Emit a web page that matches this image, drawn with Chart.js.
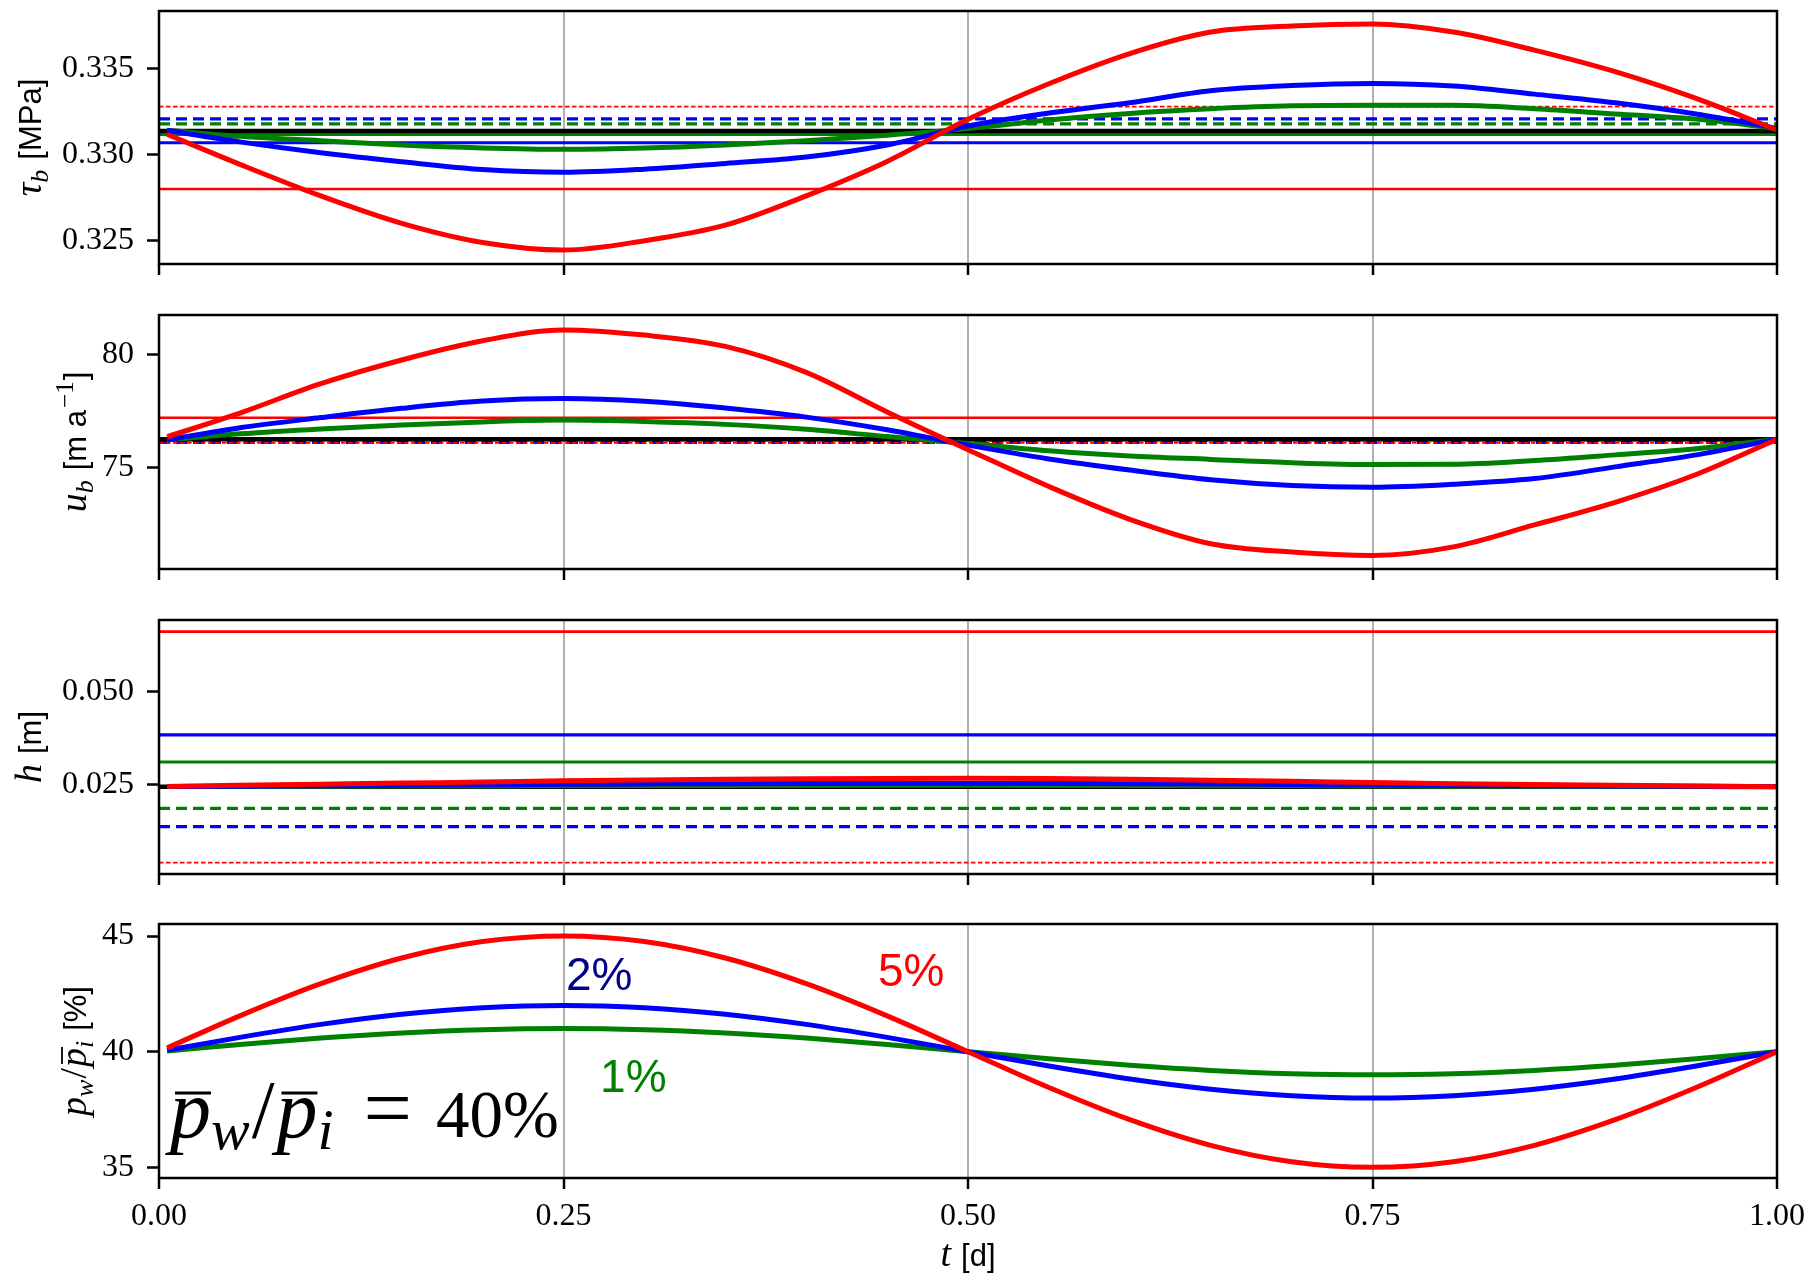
<!DOCTYPE html>
<html>
<head>
<meta charset="utf-8">
<title>Tidal forcing response</title>
<script src="https://cdn.jsdelivr.net/npm/chart.js@4.4.1/dist/chart.umd.min.js"></script>
<style>
  html, body { margin: 0; padding: 0; background: #fff; }
  #wrap { position: relative; width: 1814px; height: 1278px; overflow: hidden; background: #fff; }
  #wrap canvas { position: absolute; left: 0; }
</style>
</head>
<body>
<div id="wrap">
  <canvas id="tauChart"></canvas>
  <canvas id="ubChart"></canvas>
  <canvas id="hChart"></canvas>
  <canvas id="pwChart"></canvas>
</div>
<script>
// time [d]
const tDays = [0.005, 0.05, 0.10, 0.15, 0.20, 0.25, 0.30, 0.35, 0.40, 0.45, 0.50,
               0.55, 0.60, 0.65, 0.70, 0.75, 0.80, 0.85, 0.90, 0.95, 1.00];
const tTicks = [0, 0.25, 0.5, 0.75, 1];
const tTickLabels = ['0.00', '0.25', '0.50', '0.75', '1.00'];

// amplitude cases, drawn in this order (5% on top)
const amplitudes = ['5%', '2%', '1%'];

// basal shear stress [MPa]
const tau5 = [0.33117, 0.32943, 0.32760, 0.32601, 0.32490, 0.32446, 0.32500, 0.32590, 0.32760, 0.32960, 0.33204,
              0.33410, 0.33585, 0.33710, 0.33745, 0.33757, 0.33710, 0.33605, 0.33480, 0.33325, 0.33142];
const tau2 = [0.33140, 0.33073, 0.33010, 0.32958, 0.32913, 0.32897, 0.32915, 0.32948, 0.32985, 0.33055, 0.33165,
              0.33240, 0.33300, 0.33370, 0.33400, 0.33412, 0.33397, 0.33350, 0.33300, 0.33235, 0.33152];
const tau1 = [0.33140, 0.33105, 0.33080, 0.33055, 0.33038, 0.33030, 0.33037, 0.33055, 0.33080, 0.33112, 0.33150,
              0.33200, 0.33238, 0.33265, 0.33282, 0.33285, 0.33285, 0.33265, 0.33235, 0.33205, 0.33150];
const tauRef = 0.33136;
const tauSolid = [0.32800, 0.33068, 0.33117];   // 5%, 2%, 1%
const tauDashed = [0.33277, 0.33206, 0.33177];  // 5%, 2%, 1%
const tauTicks = [0.325, 0.330, 0.335];
const tauTickLabels = ['0.325', '0.330', '0.335'];

// basal sliding speed [m/a]
const ub5 = [76.35, 77.40, 78.70, 79.75, 80.60, 81.08, 80.85, 80.35, 79.20, 77.45, 75.78,
             74.15, 72.70, 71.62, 71.25, 71.10, 71.48, 72.45, 73.45, 74.68, 76.24];
const ub2 = [76.21, 76.75, 77.20, 77.61, 77.93, 78.04, 77.92, 77.62, 77.22, 76.66, 75.98,
             75.37, 74.88, 74.45, 74.20, 74.12, 74.25, 74.50, 75.02, 75.55, 76.24];
const ub1 = [76.21, 76.48, 76.70, 76.87, 77.01, 77.09, 77.03, 76.90, 76.68, 76.36, 76.05,
             75.73, 75.50, 75.35, 75.20, 75.12, 75.13, 75.30, 75.55, 75.82, 76.24];
const ubRef = 76.24;
const ubSolid = [77.195, 76.22, 76.23];
const ubDashed = [76.085, 76.10, 76.12];
const ubTicks = [75, 80];
const ubTickLabels = ['75', '80'];

// water film thickness [m]
const h5 = [0.02460, 0.02490, 0.02520, 0.02550, 0.02578, 0.02610, 0.02635, 0.02655, 0.02668, 0.02675, 0.02678,
            0.02672, 0.02655, 0.02630, 0.02600, 0.02565, 0.02535, 0.02510, 0.02490, 0.02470, 0.02455];
const h2 = [0.02458, 0.02468, 0.02480, 0.02493, 0.02506, 0.02518, 0.02528, 0.02536, 0.02542, 0.02545, 0.02546,
            0.02543, 0.02536, 0.02526, 0.02513, 0.02500, 0.02488, 0.02478, 0.02470, 0.02463, 0.02458];
const h1 = [0.02456, 0.02460, 0.02465, 0.02470, 0.02475, 0.02480, 0.02484, 0.02487, 0.02489, 0.02490, 0.02490,
            0.02489, 0.02486, 0.02482, 0.02477, 0.02472, 0.02467, 0.02463, 0.02460, 0.02457, 0.02455];
const hRef = 0.02455;
const hSolid = [0.06608, 0.03840, 0.03116];
const hDashed = [0.00418, 0.01383, 0.01875];
const hTicks = [0.025, 0.050];
const hTickLabels = ['0.025', '0.050'];

// water pressure over ice overburden [%]
const pw5 = [40.16, 41.55, 42.94, 44.05, 44.76, 45.00, 44.76, 44.05, 42.94, 41.55, 40.00,
             38.45, 37.06, 35.95, 35.24, 35.00, 35.24, 35.95, 37.06, 38.45, 40.00];
const pw2 = [40.06, 40.62, 41.18, 41.62, 41.90, 42.00, 41.90, 41.62, 41.18, 40.62, 40.00,
             39.38, 38.82, 38.38, 38.10, 38.00, 38.10, 38.38, 38.82, 39.38, 40.00];
const pw1 = [40.03, 40.31, 40.59, 40.81, 40.95, 41.00, 40.95, 40.81, 40.59, 40.31, 40.00,
             39.69, 39.41, 39.19, 39.05, 39.00, 39.05, 39.19, 39.41, 39.69, 40.00];
const pwTicks = [35, 40, 45];
const pwTickLabels = ['35', '40', '45'];

// ---------------------------------------------------------------------------
const colors = ['#ff0000', '#0000ff', '#008000'];
const PLOT_LEFT = 159, PLOT_RIGHT = 1777, W = 1814;
const panelTop = [11, 315, 620, 924];
const panelBottom = [264, 569, 874, 1178];
const canvasTop = [0, 304, 609, 913];
const canvasHeight = [304, 305, 304, 365];
const TICK_FONT = { family: 'Liberation Serif', size: 32 };

const MI = s => `italic ${s}px "Liberation Serif"`;
const RM = s => `${s}px "Liberation Serif"`;
const SF = s => `${s}px "Liberation Sans"`;

function series(values) {
    return tDays.map((t, i) => ({ x: t, y: values[i] }));
}
function level(v) {
    return [{ x: 0, y: v }, { x: 1, y: v }];
}

// curves first (drawn on top), then the constant levels underneath
function buildDatasets(curves, ref, solid, dashed) {
    const ds = [];
    curves.forEach((c, i) => ds.push({
        data: series(c), borderColor: colors[i], borderWidth: 5,
        cubicInterpolationMode: 'monotone'
    }));
    if (ref !== null) {
        ds.push({ data: level(ref), borderColor: '#000', borderWidth: 4.5 });
        const solidW = [2.6, 3.2, 3.2];
        solid.forEach((v, i) => ds.push({ data: level(v), borderColor: colors[i], borderWidth: solidW[i] }));
        dashed.forEach((v, i) => ds.push({
            data: level(v), borderColor: colors[i],
            borderWidth: i === 0 ? 1.8 : 3.2,
            borderDash: i === 0 ? [4.5, 2.5] : [11, 6]
        }));
    }
    return ds;
}

// draws a run of differently styled text pieces along one baseline
function drawRich(ctx, parts, x, y, align) {
    let total = 0;
    parts.forEach(p => {
        ctx.font = p.font;
        p.w = ctx.measureText(p.text).width;
        total += p.w + (p.gap || 0);
    });
    let cx = align === 'center' ? x - total / 2 : x;
    ctx.textAlign = 'left';
    ctx.textBaseline = 'alphabetic';
    parts.forEach(p => {
        cx += p.gap || 0;
        ctx.font = p.font;
        ctx.fillStyle = p.color || '#000';
        ctx.fillText(p.text, cx, y + (p.dy || 0));
        if (p.bar) {
            ctx.strokeStyle = p.color || '#000';
            ctx.lineWidth = p.bar.lw;
            ctx.beginPath();
            ctx.moveTo(cx + p.bar.x0, y - p.bar.h);
            ctx.lineTo(cx + p.w + p.bar.x1, y - p.bar.h);
            ctx.stroke();
        }
        cx += p.w;
    });
}

const framePlugin = {
    id: 'frame',
    afterDraw(chart) {
        const { ctx, chartArea: a } = chart;
        ctx.save();
        ctx.strokeStyle = '#000';
        ctx.lineWidth = 2.5;
        ctx.strokeRect(a.left, a.top, a.right - a.left, a.bottom - a.top);
        ctx.restore();
    }
};

const labelPlugin = {
    id: 'axisLabel',
    afterDraw(chart, args, opts) {
        const { ctx, chartArea: a } = chart;
        ctx.save();
        ctx.translate(opts.x, (a.top + a.bottom) / 2);
        ctx.rotate(-Math.PI / 2);
        drawRich(ctx, opts.parts, 0, 0, 'center');
        ctx.restore();
        if (opts.draw) opts.draw(chart);
    }
};

function makePanel(id, idx, datasets, yMin, yMax, yTicks, yTickLabels, showX, labelX, labelParts, extra) {
    const canvas = document.getElementById(id);
    canvas.width = W;
    canvas.height = canvasHeight[idx];
    canvas.style.top = canvasTop[idx] + 'px';
    const padTop = panelTop[idx] - canvasTop[idx];
    const xHeight = canvasTop[idx] + canvasHeight[idx] - panelBottom[idx];

    return new Chart(canvas, {
        type: 'scatter',
        data: { datasets: datasets.map(d => Object.assign({
            showLine: true, pointRadius: 0, pointHoverRadius: 0, fill: false, tension: 0
        }, d)) },
        options: {
            responsive: false,
            animation: false,
            devicePixelRatio: 1,
            events: [],
            layout: { padding: { top: padTop, right: W - PLOT_RIGHT, left: 0, bottom: 0 } },
            plugins: {
                legend: { display: false },
                tooltip: { enabled: false },
                axisLabel: { x: labelX, parts: labelParts, draw: extra }
            },
            scales: {
                x: {
                    type: 'linear', min: 0, max: 1,
                    afterFit: s => {
                        s.height = xHeight;
                        s.paddingLeft = 0; s.paddingRight = 0;
                    },
                    afterBuildTicks: s => { s.ticks = tTicks.map(v => ({ value: v })); },
                    border: { display: false },
                    grid: {
                        color: '#b0b0b0', lineWidth: 2,
                        tickColor: '#000', tickWidth: 2.5, tickLength: 11
                    },
                    ticks: {
                        color: '#000', font: TICK_FONT,
                        padding: 8, maxRotation: 0, autoSkip: false,
                        callback: (v, i) => showX ? tTickLabels[i] : ''
                    }
                },
                y: {
                    type: 'linear', min: yMin, max: yMax,
                    afterFit: s => {
                        s.width = PLOT_LEFT;
                        s.paddingTop = 0; s.paddingBottom = 0;
                    },
                    afterBuildTicks: s => { s.ticks = yTicks.map(v => ({ value: v })); },
                    border: { display: false },
                    grid: {
                        drawOnChartArea: false, color: '#000',
                        tickColor: '#000', tickWidth: 2.5, tickLength: 12
                    },
                    ticks: {
                        color: '#000', font: TICK_FONT,
                        padding: 13, autoSkip: false,
                        callback: (v, i) => yTickLabels[i]
                    }
                }
            }
        },
        plugins: [framePlugin, labelPlugin]
    });
}

// tau_b panel
makePanel('tauChart', 0,
    buildDatasets([tau5, tau2, tau1], tauRef, tauSolid, tauDashed),
    0.32365, 0.33832, tauTicks, tauTickLabels, false, 41, [
        { text: 'τ', font: MI(38) },
        { text: 'b', font: MI(26), dy: 7 },
        { text: '[MPa]', font: SF(31), gap: 10 }
    ]);

// u_b panel
makePanel('ubChart', 1,
    buildDatasets([ub5, ub2, ub1], ubRef, ubSolid, ubDashed),
    70.5, 81.74, ubTicks, ubTickLabels, false, 86, [
        { text: 'u', font: MI(38) },
        { text: 'b', font: MI(26), dy: 7 },
        { text: '[m a', font: SF(31), gap: 10 },
        { text: '−1', font: RM(25), dy: -13, gap: 2 },
        { text: ']', font: SF(31), gap: 1 }
    ]);

// h panel
makePanel('hChart', 2,
    buildDatasets([h5, h2, h1], hRef, hSolid, hDashed),
    0.00115, 0.0692, hTicks, hTickLabels, false, 41, [
        { text: 'h', font: MI(38) },
        { text: '[m]', font: SF(31), gap: 10 }
    ]);

// p_w / p_i panel, with amplitude labels and the mean pressure ratio
makePanel('pwChart', 3,
    buildDatasets([pw5, pw2, pw1], null),
    34.54, 45.52, pwTicks, pwTickLabels, true, 86, [
        { text: 'p', font: MI(38) },
        { text: 'w', font: MI(26), dy: 7 },
        { text: '/', font: RM(38), gap: 1 },
        { text: 'p', font: MI(38), bar: { h: 24, lw: 1.8, x0: 3, x1: 1 }, gap: 1 },
        { text: 'i', font: MI(26), dy: 7 },
        { text: '[%]', font: SF(31), gap: 10 }
    ],
    chart => {
        const { ctx, scales: { x, y }, chartArea: a } = chart;
        ctx.save();
        const amplitudeColors = ['#ff0000', '#00008b', '#008000'];
        const spots = [[0.4444, 42.84], [0.2515, 42.67], [0.2726, 38.26]];
        amplitudes.forEach((txt, i) => {
            drawRich(ctx, [{ text: txt, font: SF(46), color: amplitudeColors[i] }],
                x.getPixelForValue(spots[i][0]), y.getPixelForValue(spots[i][1]), 'left');
        });
        const bar = { h: 44, lw: 3, x0: 5, x1: 0 };
        drawRich(ctx, [
            { text: 'p', font: MI(82), bar: bar },
            { text: 'w', font: MI(58), dy: 12 },
            { text: '/', font: RM(82), gap: 2 },
            { text: 'p', font: MI(82), bar: bar, gap: 2 },
            { text: 'i', font: MI(58), dy: 12 },
            { text: '=', font: RM(86), gap: 30 },
            { text: '40%', font: RM(67), gap: 24 }
        ], x.getPixelForValue(0.0068), y.getPixelForValue(36.31), 'left');
        // time axis title
        drawRich(ctx, [
            { text: 't', font: MI(38) },
            { text: '[d]', font: SF(31), gap: 10 }
        ], (a.left + a.right) / 2, 353, 'center');
        ctx.restore();
    });
</script>
</body>
</html>
